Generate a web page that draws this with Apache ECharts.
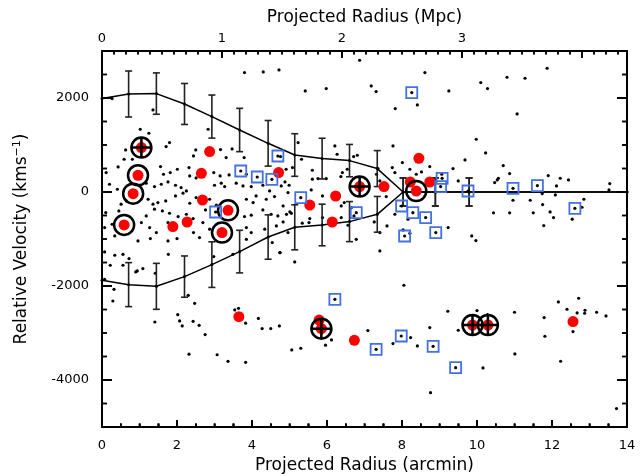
<!DOCTYPE html>
<html><head><meta charset="utf-8">
<script src="https://cdn.jsdelivr.net/npm/echarts@6/dist/echarts.min.js"></script>
<style>html,body{margin:0;padding:0;background:#fff}#c{width:644px;height:476px;background:#fff}</style>
</head><body><div id="c"></div>
<script>
// ---- tick labels ----
const arcminTicks = [0, 2, 4, 6, 8, 10, 12, 14];
const mpcTicks = [0, 1, 2, 3, 4];
const velTicks = [-4000, -2000, 0, 2000];
const arcminPerMpc = 3.2;
const mpcMax = 14 / arcminPerMpc;

// ---- galaxies (projected radius arcmin, relative velocity km/s) ----
const members = [
[3.80,2540],[4.30,2555],[4.72,2597],[0.27,1987],[1.36,1746],[1.02,1335],[1.25,1250],[2.83,1335],[0.63,896],[1.71,966],
[1.80,1052],[2.50,896],[3.16,903],[3.47,917],[0.59,697],[0.81,697],[2.44,768],[3.31,732],[3.79,732],[4.76,754],
[0.11,413],[0.43,534],[1.56,541],[2.01,484],[2.32,520],[2.98,413],[1.64,378],[1.82,413],[2.34,342],[2.51,300],
[3.15,342],[3.39,364],[3.85,378],[4.91,484],[0.20,165],[0.41,59],[1.18,187],[1.40,116],[1.58,165],[1.76,215],
[1.96,144],[2.11,94],[2.25,23],[3.00,144],[3.18,187],[3.27,116],[3.58,187],[3.76,130],[3.98,116],[4.29,144],
[4.47,23],[4.78,130],[4.96,-12],[0.51,-260],[0.65,-189],[1.23,-154],[1.36,-260],[1.49,-225],[1.70,-189],[1.96,-83],
[2.16,-26],[2.34,-239],[2.51,-118],[2.87,-154],[3.05,-281],[3.85,-154],[4.03,-225],[4.11,-83],[4.38,-154],[4.60,-97],
[4.83,-296],[0.10,-437],[0.45,-402],[1.18,-508],[1.40,-366],[1.61,-402],[1.80,-452],[2.03,-522],[2.25,-473],[2.43,-565],
[2.76,-381],[3.80,-522],[3.98,-494],[4.29,-381],[4.51,-473],[4.69,-508],[0.07,-756],[0.27,-686],[0.34,-934],[1.05,-650],
[1.27,-756],[1.45,-863],[1.76,-650],[1.98,-756],[2.44,-863],[2.69,-650],[2.87,-792],[3.85,-756],[3.98,-863],[4.34,-792],
[4.65,-721],[4.96,-863],
[0.07,-1275],[0.34,-1346],[0.56,-1325],[0.72,-1417],[0.96,-1041],[1.29,-992],[1.76,-1041],[1.77,-1325],[2.00,-992],[2.60,-970],
[2.98,-1374],[3.49,-1325],[3.85,-1006],[4.54,-1077],[4.75,-1290],[0.22,-1559],[0.56,-1559],[0.90,-1701],[0.94,-1680],[1.09,-1630],
[1.42,-1729],[0.32,-2071],[0.29,-2319],[1.41,-2766],[2.02,-2610],[2.07,-2743],[2.14,-2849],[2.30,-2198],[2.47,-2368],[2.43,-2751],
[2.59,-2836],[2.75,-3034],[2.32,-3450],[3.07,-3463],[3.36,-3602],[3.83,-3623],[3.54,-2510],[3.64,-2474],[3.83,-2790],[4.17,-2690],
[4.27,-2906],[4.50,-2906],[4.73,-2850],[0.07,-1857],
[6.87,2803],[8.61,2540],[5.42,2150],[5.98,2200],[7.18,2257],[7.31,2136],[8.41,1853],[7.82,1775],[9.25,2150],[5.23,1052],
[6.21,981],[7.76,981],[5.08,520],[5.32,697],[5.61,463],[6.27,803],[6.81,782],[6.71,754],[6.41,413],[6.37,328],
[6.54,484],[5.76,286],[5.61,272],[5.98,286],[4.88,215],[4.99,144],[5.58,45],[5.88,-83],[6.21,-154],[6.38,-296],
[6.46,-225],[6.65,-331],[7.41,236],[7.32,378],[7.36,498],[7.74,520],[7.81,413],[8.01,626],[8.21,484],[8.38,378],
[8.52,428],[8.74,541],[9.06,378],[9.36,499],[9.50,236],[7.58,-97],[7.81,-473],[4.83,-636],[5.01,-423],[5.34,-664],
[5.52,-650],[6.14,-565],[6.38,-544],[6.56,-707],[6.72,-508],[7.26,-636],[7.41,-863],[7.60,-721],[8.16,-579],[9.23,-756],
[11.87,2633],[10.10,2328],[10.28,2200],[10.80,2441],[11.28,2420],[11.07,1661],[9.98,1122],[10.23,832],[9.68,683],[10.70,562],
[10.87,392],[10.47,201],[10.54,257],[10.57,293],[11.90,350],[12.22,293],[12.44,257],[12.12,130],[11.74,-33],[10.96,-175],
[11.42,-175],[11.75,-267],[12.09,-62],[12.85,-154],[12.80,-324],[13.54,179],[13.52,45],[10.44,-444],[10.87,-444],[11.50,-444],
[11.95,-423],[12.04,-544],[12.54,-579],[11.78,-714],[9.86,-934],[9.97,-1034],
[12.17,-2339],[12.71,-2261],[12.40,-2495],[12.67,-2573],[12.88,-2516],[12.87,-2580],[13.19,-2559],[13.44,-2637],[10.00,-2523],[10.28,-2608],
[11.00,-2559],[11.79,-2672],[12.56,-2970],[11.81,-3069],[11.01,-3445],[12.23,-3601],[10.16,-3743],[13.72,-4609],[8.76,-4270],
[7.41,-1254],[5.14,-1488],[4.74,-1289],[8.05,-1984],[9.22,-2537],[5.06,-3360],[5.30,-3324],[5.96,-3260],[6.12,-3147],[7.09,-2948],
[7.76,-3225],[8.23,-3097],[8.41,-3275],[8.74,-2885],[9.50,-2941],[6.78,-1006],[8.03,-807],[8.21,-878],[4.92,-474],[5.05,-453],
[5.54,-566],[5.88,-545]
];

const redDots = [
[0.59,-700],[0.83,-35],[0.96,355],[1.05,945],[1.89,-736],[2.27,-638],[2.65,398],[2.68,-170],[2.87,860],[3.20,-864],
[3.36,-390],[3.65,-2652],[4.71,413],[5.54,-277],[5.79,-2724],[5.85,-2907],[6.14,-638],[6.23,-85],[6.73,-3156],[6.87,115],
[7.52,115],[8.22,213],[8.38,21],[8.45,717],[8.74,213],[9.88,-2830],[10.29,-2830],[12.56,-2757]
];
const circled = [[0.59,-700],[0.83,-35],[0.96,355],[3.20,-864],[3.36,-390],[8.38,21]];
const crossed = [[1.05,945],[5.85,-2907],[6.87,115],[9.88,-2830],[10.29,-2830]];
const squares = [
[3.03,-425],[3.70,447],[4.14,319],[4.53,270],[4.69,766],[5.30,-120],[6.78,-439],[7.99,-298],[8.29,-439],[8.63,-545],
[8.90,-864],[8.07,-936],[9.07,292],[9.03,115],[9.76,21],[8.26,2115],[10.96,79],[11.61,136],[12.61,-347],[6.21,-2283],
[7.98,-3064],[7.31,-3347],[8.83,-3283],[9.43,-3737]
];

// ---- caustic profile ----
const profileX   = [0, 0.71, 1.45, 2.20, 2.93, 3.67, 4.43, 5.14, 5.87, 6.60, 7.34, 8.03, 8.89, 9.79, 14];
const upperLine  = [1988, 2085, 2094, 1873, 1605, 1319, 1036, 787, 711, 668, 498, 0, 0, 0, 0];
const lowerLine  = [-1879, -1971, -2007, -1800, -1545, -1268, -958, -751, -702, -630, -475, 0, 0, 0, 0];
const binX     = [0.71, 1.45, 2.20, 2.93, 3.67, 4.43, 5.14, 5.87, 6.60, 7.34, 8.03, 8.89, 9.79];
const upperV   = [2085, 2094, 1873, 1605, 1319, 1036, 787, 711, 668, 498, 0, 0, 0];
const upperErr = [489, 440, 436, 458, 461, 485, 453, 433, 344, 383, 298, 298, 298];
const lowerV   = [-1971, -2007, -1800, -1545, -1268, -958, -751, -702, -630, -475, 0, 0, 0];
const lowerErr = [468, 489, 439, 485, 453, 472, 479, 443, 426, 380, 298, 298, 298];

// ---- build ----
const FONT = 'DejaVu Sans';
const XMIN = 0, XMAX = 14, YMIN = -5000, YMAX = 3000;
const fmt = v => String(v);
function lab(extra) { return Object.assign({color:'#000', fontSize:13, fontFamily:FONT, formatter:fmt}, extra); }
function nameStyle() { return {color:'#000', fontSize:17, fontFamily:FONT}; }
function axLine() { return {show:true, onZero:false, lineStyle:{color:'#000', width:2}}; }
function tk(len, extra) { return Object.assign({show:true, inside:true, length:len, lineStyle:{color:'#000', width:1.5}}, extra); }

// tick marks: [side, value, major]  side 0=bottom(arcmin),1=top(Mpc),2=left,3=right
const tickMarks = [];
for (let i = 0; i <= 28; i++) { const v = i * 0.5; tickMarks.push([0, v, arcminTicks.includes(v) ? 1 : 0]); }
for (let i = 0; i <= 43; i++) { const m = i / 10; tickMarks.push([1, m, mpcTicks.includes(m) ? 1 : 0]); }
for (let v = YMIN; v <= YMAX; v += 500) {
  const maj = velTicks.includes(v) ? 1 : 0;
  tickMarks.push([2, v, maj]); tickMarks.push([3, v, maj]);
}
function tickSegment(side, v, maj, toPx) {
  let p, d;
  if (side === 0) { p = toPx([v, YMIN]); d = [0, -(maj ? 7 : 3.5)]; }
  else if (side === 1) { p = toPx([v * arcminPerMpc, YMAX]); d = [0, (maj ? 7 : 3.5)]; }
  else if (side === 2) { p = toPx([XMIN, v]); d = [(maj ? 10 : 5), 0]; }
  else { p = toPx([XMAX, v]); d = [-(maj ? 10 : 5), 0]; }
  return {x1:p[0], y1:p[1], x2:p[0] + d[0], y2:p[1] + d[1]};
}

function errItem(params, api) {
  const x = api.value(0), c = api.value(1), e = api.value(2);
  const t = api.coord([x, c + e]), b = api.coord([x, c - e]);
  const w = 3.5, st = {stroke:'#222', lineWidth:1.6};
  return {type:'group', children:[
    {type:'line', shape:{x1:t[0], y1:t[1], x2:b[0], y2:b[1]}, style:st},
    {type:'line', shape:{x1:t[0]-w, y1:t[1], x2:t[0]+w, y2:t[1]}, style:st},
    {type:'line', shape:{x1:b[0]-w, y1:b[1], x2:b[0]+w, y2:b[1]}, style:st}
  ]};
}
// tick marks as a custom series item (one item per tick, same form as the error bars)
function tickItem(params, api) {
  const sh = tickSegment(api.value(0), api.value(1), api.value(2), api.coord);
  const st = {stroke:'#000', lineWidth:1.5};
  return {type:'group', children:[{type:'line', shape:sh, style:st}]};
}

const chart = echarts.init(document.getElementById('c'), null, {renderer:'canvas'});
chart.setOption({
  animation:false,
  grid:{left:102, right:17, top:51, bottom:49, containLabel:false, outerBoundsMode:'none'},
  xAxis:[
    {type:'value', position:'bottom', min:XMIN, max:XMAX, interval:2,
     axisLine:axLine(), splitLine:{show:false}, axisTick:tk(7),
     minorTick:{show:true, splitNumber:4, length:3.5, lineStyle:{color:'#000', width:1.5}},
     axisLabel:lab({margin:12, customValues:arcminTicks}),
     name:'Projected Radius (arcmin)', nameLocation:'middle', nameGap:30, nameMoveOverlap:false, nameTextStyle:nameStyle()},
    {type:'value', position:'top', min:0, max:mpcMax, interval:1,
     axisLine:axLine(), splitLine:{show:false}, axisTick:tk(7, {customValues:mpcTicks}),
     axisLabel:lab({margin:6, customValues:mpcTicks, showMaxLabel:false}),
     name:'Projected Radius (Mpc)', nameLocation:'middle', nameGap:25, nameMoveOverlap:false, nameTextStyle:nameStyle()}
  ],
  yAxis:[
    {type:'value', position:'left', min:YMIN, max:YMAX,
     axisLine:axLine(), splitLine:{show:false}, axisTick:tk(10, {customValues:velTicks}),
     axisLabel:lab({margin:13, customValues:velTicks}),
     name:'{a|Relative Velocity (kms}{s|−1}{a|)}', nameLocation:'middle', nameGap:70, nameMoveOverlap:false,
     nameTextStyle:{rich:{a:{color:'#000', fontSize:17, fontFamily:FONT},
                          s:{color:'#000', fontSize:11, fontFamily:FONT, padding:[0,0,9,0]}}}},
    {type:'value', position:'right', min:YMIN, max:YMAX,
     axisLine:axLine(), splitLine:{show:false}, axisTick:tk(10, {customValues:velTicks}),
     axisLabel:{show:false}}
  ],
  series:[
    {type:'scatter', name:'members', data:members, symbol:'circle', symbolSize:3.2,
     itemStyle:{color:'#000', opacity:1}, silent:true, z:2},
    {type:'line', data:profileX.map((x,i)=>[x, upperLine[i]]), symbol:'circle', symbolSize:3, showSymbol:true,
     itemStyle:{color:'#000', opacity:1}, lineStyle:{color:'#000', width:1.5}, silent:true, z:3},
    {type:'line', data:profileX.map((x,i)=>[x, lowerLine[i]]), symbol:'circle', symbolSize:3, showSymbol:true,
     itemStyle:{color:'#000', opacity:1}, lineStyle:{color:'#000', width:1.5}, silent:true, z:3},
    {type:'custom', renderItem:errItem, data:binX.map((x,i)=>[x, upperV[i], upperErr[i]]), silent:true, z:3},
    {type:'custom', renderItem:errItem, data:binX.map((x,i)=>[x, lowerV[i], lowerErr[i]]), silent:true, z:3},
    {type:'custom', renderItem:tickItem, data:tickMarks.map(t => [t[0] + 1, 0, t[2]]).map((d, i) => [tickMarks[i][0], tickMarks[i][1], tickMarks[i][2]]),
     encode:{x:-1, y:-1}, silent:true, z:8, clip:false},
    {type:'scatter', data:redDots, symbol:'circle', symbolSize:11, itemStyle:{color:'#ff0000', opacity:1}, silent:true, z:4},
    {type:'scatter', data:circled.concat(crossed), symbol:'circle', symbolSize:20,
     itemStyle:{color:'rgba(0,0,0,0)', borderColor:'#000', borderWidth:2.5, opacity:1}, silent:true, z:5},
    {type:'scatter', data:crossed, symbol:'path://M0,5L10,5M5,0L5,10', symbolSize:19,
     itemStyle:{color:'rgba(0,0,0,0)', borderColor:'#000', borderWidth:2.5, opacity:1}, silent:true, z:6},
    {type:'scatter', data:squares, symbol:'rect', symbolSize:11,
     itemStyle:{color:'rgba(0,0,0,0)', borderColor:'#4470e0', borderWidth:1.8, opacity:1}, silent:true, z:6},
    {type:'scatter', data:squares, symbol:'circle', symbolSize:3.2, itemStyle:{color:'#000', opacity:1}, silent:true, z:7}
  ]
});

// frame ticks also as graphic elements placed through the chart's own scales
const toPx = pt => chart.convertToPixel({gridIndex:0}, pt);
chart.setOption({
  graphic:{elements: tickMarks.map(t => ({
    type:'line', silent:true, z:100,
    shape: tickSegment(t[0], t[1], t[2], toPx),
    style:{stroke:'#000', lineWidth:1.5}
  }))}
});
</script>
</body></html>
